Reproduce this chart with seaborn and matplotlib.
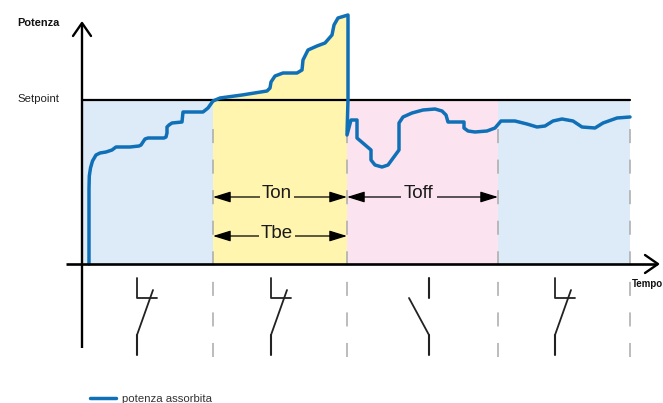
import matplotlib
matplotlib.use('Agg')
import matplotlib.pyplot as plt
import seaborn as sns
import numpy as np

# power curve, time and power measured from the axes origin
time = [7, 7, 7.3, 8.5, 10.5, 14, 18, 24, 30, 34, 48, 57, 59, 61, 63, 66, 82, 84, 85, 85, 87, 90, 100, 101,
        121, 126, 131, 138, 160, 185, 188, 189, 193, 201, 215, 220, 221, 226, 235, 243, 250, 252, 256, 266,
        266, 265, 269, 275, 275, 289, 289, 293, 300, 306, 317, 317, 321, 330, 341, 353, 360, 364, 366,
        382, 382, 386, 393, 405, 413, 419, 433, 445, 455, 463, 471, 480, 491, 500, 513, 521, 535, 548]
power = [0, 75, 88, 96, 103, 109, 111, 112, 114, 117, 117, 118, 119, 122, 125, 126, 126, 127, 131, 137, 139, 141, 142, 152,
         152, 156, 163, 166, 169, 173, 176, 182, 188, 191, 191, 194, 204, 214, 218, 221, 229, 239, 246, 249,
         165, 129, 144, 144, 126, 114, 104, 99, 97, 99, 114, 141, 147, 151, 154, 155, 153, 149, 142,
         142, 136, 133, 132, 133, 136, 143, 143, 140, 137, 138, 143, 145, 143, 137, 136, 141, 146, 147]

setpoint = 164
phase_edges = [0, 131, 265, 416, 548]
phase_colors = ['#DDEBF8', '#FFF5AE', '#FBE3F0', '#DDEBF8']
closed_switches = [55, 189, 473]
open_switches = [347]

sns.set_theme(style='white')
plt.rcParams['font.family'] = ['Liberation Sans']

fig = plt.figure(figsize=(6.63, 4.03), dpi=100)
ax = fig.add_axes([0, 0, 1, 1])
ax.set_xlim(-82, 581)
ax.set_ylim(-139, 264)
ax.axis('off')

# coloured phases
for i, c in enumerate(phase_colors):
    ax.bar(phase_edges[i], setpoint, phase_edges[i + 1] - phase_edges[i], align='edge', color=c, linewidth=0, zorder=1)

# yellow also goes up under the curve while above setpoint
peak = power.index(max(power)) + 1
t = np.array(time[:peak])
p = np.array(power[:peak])
ax.fill_between(t, setpoint, p, where=t >= phase_edges[1], color=phase_colors[1], linewidth=0, zorder=1)

# dashed phase limits, dashes counted from the bottom
for x in phase_edges[1:]:
    ax.plot([x, x], [-93, 149], color='#AAAAAA', lw=1.1, linestyle=(0, (9.2, 10.8)), zorder=2)

ax.plot([0, phase_edges[-1]], [setpoint, setpoint], color='black', lw=1.6, zorder=3)

sns.lineplot(x=time, y=power, sort=False, estimator=None, color='#0F70B7', lw=2.5, ax=ax, zorder=4,
             label='potenza assorbita', legend=False, solid_joinstyle='round')

# axes with open arrow heads
ax.plot([0, 0], [-84, 240], color='black', lw=1.7, solid_capstyle='butt', zorder=5)
ax.plot([-16, 575], [0, 0], color='black', lw=1.9, solid_capstyle='butt', zorder=5)
ax.plot([-9, 0, 9], [228, 241, 228], color='black', lw=1.7, zorder=5)
ax.plot([563, 576, 563], [9, 0, -9], color='black', lw=1.7, zorder=5)


def span(x0, x1, y):
    ax.annotate('', xy=(x1, y), xytext=(x0, y), zorder=6,
                arrowprops=dict(arrowstyle='<|-|>,head_length=0.9,head_width=0.28', color='black', lw=0.9,
                                shrinkA=0, shrinkB=0))


span(phase_edges[1], phase_edges[2], 67)
span(phase_edges[1], phase_edges[2], 28)
span(phase_edges[2], phase_edges[3], 67)

box = dict(facecolor=phase_colors[1], edgecolor='none', pad=1.5)
ax.text(195, 70, 'Ton', fontsize=13.5, color='#1a1a1a', ha='center', va='center', bbox=box, zorder=7)
ax.text(195, 30, 'Tbe', fontsize=13.5, color='#1a1a1a', ha='center', va='center', bbox=box, zorder=7)
ax.text(337, 71, 'Toff', fontsize=13.5, color='#1a1a1a', ha='center', va='center',
        bbox=dict(facecolor=phase_colors[2], edgecolor='none', pad=2.5), zorder=7)

# switch symbols
for x in closed_switches:
    ax.plot([x, x], [-71, -91], color='#222222', lw=1.5)
    ax.plot([x, x + 16], [-71, -26], color='#222222', lw=1.3)
    ax.plot([x, x, x + 20], [-14, -34, -34], color='#222222', lw=1.3)
for x in open_switches:
    ax.plot([x, x], [-71, -91], color='#222222', lw=1.5)
    ax.plot([x, x - 20], [-71, -34], color='#222222', lw=1.3)
    ax.plot([x, x], [-14, -34], color='#222222', lw=1.5)

ax.text(-65, 241, 'Potenza', fontsize=7.9, fontweight='bold', color='#111111', va='center')
ax.text(-65, 164.5, 'Setpoint', fontsize=8.2, color='#222222', va='center')
ax.text(550, -20, 'Tempo', fontsize=7.0, fontweight='bold', color='#111111', va='center')

ax.legend(loc='lower left', bbox_to_anchor=(0.121, -0.029), frameon=False, fontsize=8.2,
          handlelength=2.2, handletextpad=0.6, labelcolor='#333333')

fig.savefig('out.png', dpi=100)
